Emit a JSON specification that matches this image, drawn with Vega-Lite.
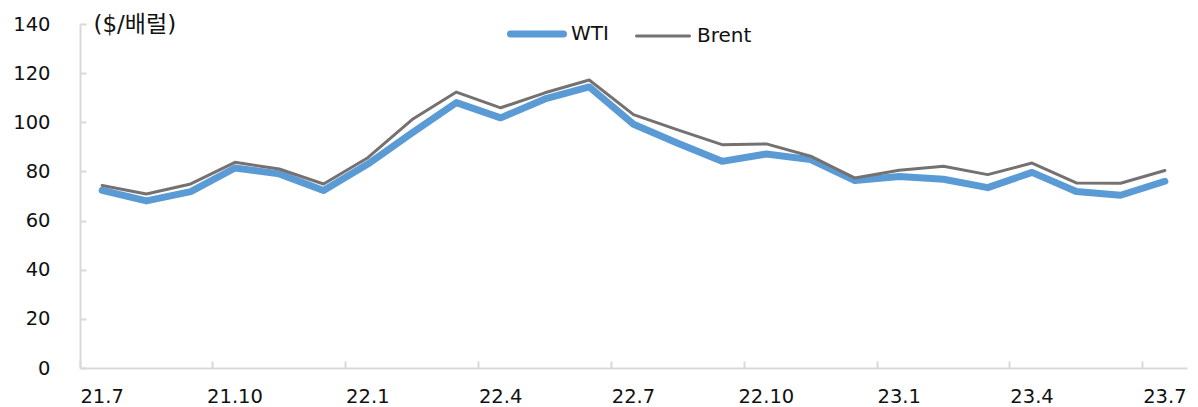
{
  "$schema": "https://vega.github.io/schema/vega-lite/v6.json",
  "autosize": {"type": "none"},
  "padding": {"left": 80, "top": 24, "right": 11, "bottom": 39},
  "width": 1107,
  "height": 344,
  "background": "white",
  "config": {
    "view": {"stroke": null},
    "font": "DejaVu Sans"
  },
  "data": {
    "values": [
      {"month": "21.7", "series": "WTI", "price": 72.3},
      {"month": "21.8", "series": "WTI", "price": 68.0},
      {"month": "21.9", "series": "WTI", "price": 71.8},
      {"month": "21.10", "series": "WTI", "price": 81.4},
      {"month": "21.11", "series": "WTI", "price": 79.0},
      {"month": "21.12", "series": "WTI", "price": 72.2},
      {"month": "22.1", "series": "WTI", "price": 83.0},
      {"month": "22.2", "series": "WTI", "price": 95.7},
      {"month": "22.3", "series": "WTI", "price": 108.0},
      {"month": "22.4", "series": "WTI", "price": 101.8},
      {"month": "22.5", "series": "WTI", "price": 109.5},
      {"month": "22.6", "series": "WTI", "price": 114.4},
      {"month": "22.7", "series": "WTI", "price": 99.2},
      {"month": "22.8", "series": "WTI", "price": 91.5},
      {"month": "22.9", "series": "WTI", "price": 84.1},
      {"month": "22.10", "series": "WTI", "price": 87.1},
      {"month": "22.11", "series": "WTI", "price": 84.8},
      {"month": "22.12", "series": "WTI", "price": 76.3},
      {"month": "23.1", "series": "WTI", "price": 77.9},
      {"month": "23.2", "series": "WTI", "price": 76.8},
      {"month": "23.3", "series": "WTI", "price": 73.4},
      {"month": "23.4", "series": "WTI", "price": 79.6},
      {"month": "23.5", "series": "WTI", "price": 71.8},
      {"month": "23.6", "series": "WTI", "price": 70.3},
      {"month": "23.7", "series": "WTI", "price": 76.0},
      {"month": "21.7", "series": "Brent", "price": 74.3},
      {"month": "21.8", "series": "Brent", "price": 70.8},
      {"month": "21.9", "series": "Brent", "price": 74.9},
      {"month": "21.10", "series": "Brent", "price": 83.7},
      {"month": "21.11", "series": "Brent", "price": 81.0},
      {"month": "21.12", "series": "Brent", "price": 74.9},
      {"month": "22.1", "series": "Brent", "price": 85.6},
      {"month": "22.2", "series": "Brent", "price": 101.1},
      {"month": "22.3", "series": "Brent", "price": 112.3},
      {"month": "22.4", "series": "Brent", "price": 105.9},
      {"month": "22.5", "series": "Brent", "price": 112.0},
      {"month": "22.6", "series": "Brent", "price": 117.2},
      {"month": "22.7", "series": "Brent", "price": 103.1},
      {"month": "22.8", "series": "Brent", "price": 96.9},
      {"month": "22.9", "series": "Brent", "price": 90.9},
      {"month": "22.10", "series": "Brent", "price": 91.2},
      {"month": "22.11", "series": "Brent", "price": 86.2},
      {"month": "22.12", "series": "Brent", "price": 77.3},
      {"month": "23.1", "series": "Brent", "price": 80.5},
      {"month": "23.2", "series": "Brent", "price": 82.1},
      {"month": "23.3", "series": "Brent", "price": 78.7},
      {"month": "23.4", "series": "Brent", "price": 83.4},
      {"month": "23.5", "series": "Brent", "price": 75.3},
      {"month": "23.6", "series": "Brent", "price": 75.2},
      {"month": "23.7", "series": "Brent", "price": 80.4}
    ]
  },
  "mark": {"type": "line", "strokeCap": "round", "strokeJoin": "round"},
  "encoding": {
    "x": {
      "field": "month",
      "type": "ordinal",
      "sort": null,
      "scale": {"type": "band", "paddingInner": 0, "paddingOuter": 0},
      "axis": {
        "title": null,
        "values": ["21.7", "21.10", "22.1", "22.4", "22.7", "22.10", "23.1", "23.4", "23.7"],
        "bandPosition": 0,
        "labelAngle": 0,
        "labelFont": "DejaVu Sans",
        "labelFontSize": 19.5,
        "labelColor": "#111111",
        "labelPadding": 26,
        "tickSize": -7,
        "tickWidth": 2,
        "tickColor": "#D9D9D9",
        "domainColor": "#D9D9D9",
        "domainWidth": 2,
        "grid": false
      }
    },
    "y": {
      "field": "price",
      "type": "quantitative",
      "scale": {"domain": [0, 140], "nice": false, "zero": true},
      "axis": {
        "title": "($/배럴)",
        "titleAngle": 0,
        "titleAlign": "left",
        "titleBaseline": "middle",
        "titleX": 13,
        "titleY": 0,
        "titleFont": "DejaVu Sans, Noto Sans CJK KR",
        "titleFontSize": 23,
        "titleFontWeight": "normal",
        "titleColor": "#111111",
        "values": [0, 20, 40, 60, 80, 100, 120, 140],
        "labelFont": "DejaVu Sans",
        "labelFontSize": 19.5,
        "labelColor": "#111111",
        "labelPadding": 36,
        "tickSize": -6,
        "tickWidth": 2,
        "tickColor": "#D9D9D9",
        "domainColor": "#D9D9D9",
        "domainWidth": 2,
        "grid": false
      }
    },
    "color": {
      "field": "series",
      "type": "nominal",
      "sort": ["WTI", "Brent"],
      "scale": {"domain": ["WTI", "Brent"], "range": ["#5B9BD5", "#767171"]},
      "legend": {
        "title": null,
        "orient": "none",
        "legendX": 427,
        "legendY": 0,
        "direction": "horizontal",
        "symbolType": "stroke",
        "symbolSize": 2809,
        "labelFont": "DejaVu Sans",
        "labelFontSize": 20,
        "labelColor": "#111111",
        "labelOffset": 6,
        "columnPadding": 21,
        "encode": {
          "symbols": {
            "update": {
              "x": {"value": 30},
              "size": {"value": 2809},
              "strokeWidth": {"signal": "datum.value === 'WTI' ? 7 : 3"},
              "strokeCap": {"value": "round"}
            }
          },
          "labels": {
            "update": {
              "x": {"value": 64}
            }
          }
        }
      }
    },
    "strokeWidth": {
      "condition": {"test": "datum.series === 'WTI'", "value": 7},
      "value": 3
    }
  }
}
